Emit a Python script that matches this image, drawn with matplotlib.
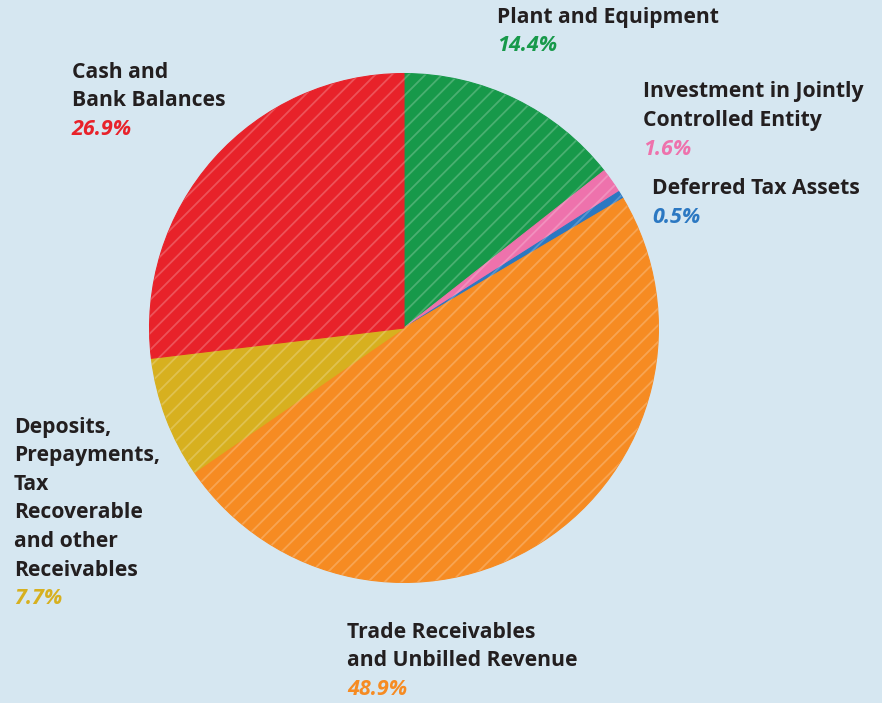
import matplotlib
matplotlib.use("Agg")
import matplotlib.pyplot as plt
from matplotlib.patches import Wedge

# Asset breakdown, clockwise from 12 o'clock
categories = ["Plant and Equipment", "Investment in Jointly Controlled Entity",
              "Deferred Tax Assets", "Trade Receivables and Unbilled Revenue",
              "Deposits, Prepayments, Tax Recoverable and other Receivables",
              "Cash and Bank Balances"]
shares = [14.4, 1.6, 0.5, 48.9, 7.7, 26.9]
colors = ["#17994a", "#ee72ac", "#2b78c2", "#f68b22", "#d7b01f", "#e8222a"]

# label text blocks, broken into lines
label_lines = [
    ["Plant and Equipment"],
    ["Investment in Jointly", "Controlled Entity"],
    ["Deferred Tax Assets"],
    ["Trade Receivables", "and Unbilled Revenue"],
    ["Deposits,", "Prepayments,", "Tax", "Recoverable", "and other", "Receivables"],
    ["Cash and", "Bank Balances"],
]
label_pos = [(497, 17), (643, 92), (652, 189), (347, 632), (14, 427), (72, 72)]

W, H = 882, 703
BG = "#d6e7f1"
LINE = 28.6

plt.rcParams["hatch.linewidth"] = 1.3

fig = plt.figure(figsize=(W / 100, H / 100), dpi=100)
fig.patch.set_facecolor(BG)

cx, cy, r = 404, 328, 257
ax = fig.add_axes([(cx - r) / W, (H - cy - r) / H, 2 * r / W, 2 * r / H])
ax.set_facecolor(BG)

wedges, _ = ax.pie(shares, colors=colors, startangle=90, counterclock=False,
                   radius=1, wedgeprops=dict(linewidth=0.8))
for w, c in zip(wedges, colors):
    w.set_edgecolor(c)

# light pencil-like streaks over each slice
for w in wedges:
    streak = Wedge(w.center, w.r, w.theta1, w.theta2, fill=False, hatch="//",
                   edgecolor=(1, 1, 1, 0.22), linewidth=0)
    ax.add_patch(streak)

ax.set_xlim(-1.01, 1.01)
ax.set_ylim(-1.01, 1.01)
ax.set_aspect("equal")
ax.axis("off")

for lines, (x, y), share, c in zip(label_lines, label_pos, shares, colors):
    for i, ln in enumerate(lines):
        fig.text(x / W, 1 - (y + i * LINE) / H, ln, fontsize=15.2, fontweight="bold",
                 family="Open Sans", color="#231f20", va="center", ha="left")
    yy = y + len(lines) * LINE
    fig.text(x / W, 1 - yy / H, f"{share}%", fontsize=15.5, fontweight="bold",
             fontstyle="italic", family="Open Sans", color=c, va="center", ha="left")

fig.savefig("out.png", dpi=100, facecolor=BG)
plt.close(fig)
